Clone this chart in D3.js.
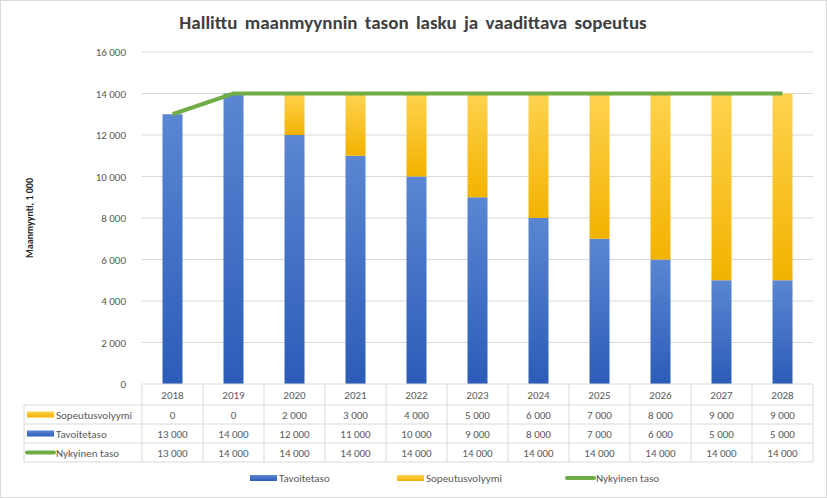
<!DOCTYPE html>
<html><head><meta charset="utf-8">
<script src="https://cdn.jsdelivr.net/npm/d3@7"></script>
<style>body{margin:0;background:#fff;font-family:Calibri,"Liberation Sans",Arial,sans-serif}</style>
</head><body><svg id="c" width="827" height="498"></svg>
<script>
var years = ["2018","2019","2020","2021","2022","2023","2024","2025","2026","2027","2028"];
var sopeutus = [0,0,2000,3000,4000,5000,6000,7000,8000,9000,9000];
var tavoite = [13000,14000,12000,11000,10000,9000,8000,7000,6000,5000,5000];
var nykyinen = [13000,14000,14000,14000,14000,14000,14000,14000,14000,14000,14000];
var yTicks = [0,2000,4000,6000,8000,10000,12000,14000,16000];

var fmt = function(v){ return d3.format(",")(v).replace(/,/g," "); };
var svg = d3.select("#c");
svg.append("rect").attr("x",0.5).attr("y",0.5).attr("width",826).attr("height",497).attr("fill","#fff").attr("stroke","#d9d9d9");

var defs = svg.append("defs");
function grad(id,c1,c2){
  var g = defs.append("linearGradient").attr("id",id).attr("x1",0).attr("x2",0).attr("y1",0).attr("y2",1);
  g.append("stop").attr("offset","0%").attr("stop-color",c1);
  g.append("stop").attr("offset","100%").attr("stop-color",c2);
}
grad("gb","#5a86d2","#2c5cb8");
grad("gy","#ffd34f","#f2b200");

var x = d3.scaleBand().domain(years).range([142,813]);
var y = d3.scaleLinear().domain([0,16000]).range([384,52]);

svg.append("text").attr("x",413).attr("y",29).attr("text-anchor","middle")
  .attr("font-size",19).attr("font-weight","bold").attr("fill","#404040").attr("word-spacing",3)
  .text("Hallittu maanmyynnin tason lasku ja vaadittava sopeutus");

svg.append("g").selectAll("line").data(yTicks.slice(1)).enter().append("line")
  .attr("x1",142).attr("x2",813).attr("y1",function(d){return y(d);}).attr("y2",function(d){return y(d);})
  .attr("stroke","#d9d9d9");
svg.append("g").selectAll("text").data(yTicks).enter().append("text")
  .attr("x",126).attr("y",function(d){return y(d)+4;}).attr("text-anchor","end")
  .attr("font-size",11).attr("fill","#595959").text(fmt);
svg.append("text").attr("transform","translate(33,218) rotate(-90)").attr("text-anchor","middle")
  .attr("font-size",10).attr("font-weight","bold").attr("fill","#262626").text("Maanmyynti, 1 000");

var bw = 20;
svg.append("g").selectAll("rect").data(years).enter().append("rect")
  .attr("x",function(d){return x(d)+x.bandwidth()/2-bw/2;}).attr("width",bw)
  .attr("y",function(d,i){return y(tavoite[i]);})
  .attr("height",function(d,i){return y(0)-y(tavoite[i]);}).attr("fill","url(#gb)");
svg.append("g").selectAll("rect").data(years).enter().append("rect")
  .attr("x",function(d){return x(d)+x.bandwidth()/2-bw/2;}).attr("width",bw)
  .attr("y",function(d,i){return y(tavoite[i]+sopeutus[i]);})
  .attr("height",function(d,i){return y(tavoite[i])-y(tavoite[i]+sopeutus[i]);}).attr("fill","url(#gy)");

var line = d3.line().x(function(d,i){return x(years[i])+x.bandwidth()/2;}).y(function(d){return y(d);});
svg.append("path").attr("d",line(nykyinen)).attr("fill","none").attr("stroke","#70ad47").attr("stroke-width",4);

// data table
var rowY = [384,405,424,443,462];
var tbl = svg.append("g").attr("stroke","#d9d9d9");
tbl.append("line").attr("x1",142).attr("x2",813).attr("y1",384).attr("y2",384);
rowY.slice(1).forEach(function(r){ tbl.append("line").attr("x1",24).attr("x2",813).attr("y1",r).attr("y2",r); });
tbl.append("line").attr("x1",24).attr("x2",24).attr("y1",405).attr("y2",462);
years.forEach(function(d){ tbl.append("line").attr("x1",x(d)).attr("x2",x(d)).attr("y1",384).attr("y2",462); });
tbl.append("line").attr("x1",813).attr("x2",813).attr("y1",384).attr("y2",462);

var rows = [
  {name:"Sopeutusvolyymi", vals:sopeutus, kind:"y"},
  {name:"Tavoitetaso", vals:tavoite, kind:"b"},
  {name:"Nykyinen taso", vals:nykyinen, kind:"g"}
];
svg.append("g").selectAll("text").data(years).enter().append("text")
  .attr("x",function(d){return x(d)+x.bandwidth()/2;}).attr("y",399).attr("text-anchor","middle")
  .attr("font-size",11).attr("fill","#595959").text(function(d){return d;});
function key(g,kx,ky,kind){
  if(kind==="g") g.append("line").attr("x1",kx).attr("x2",kx+27).attr("y1",ky).attr("y2",ky).attr("stroke","#70ad47").attr("stroke-width",4).attr("stroke-linecap","round");
  else g.append("rect").attr("x",kx).attr("y",ky-3).attr("width",27).attr("height",6).attr("fill",kind==="b"?"url(#gb)":"url(#gy)");
}
rows.forEach(function(r,ri){
  var cy = (rowY[ri+1]+rowY[ri+2])/2;
  var g = svg.append("g");
  key(g,27,cy,r.kind);
  g.append("text").attr("x",56).attr("y",cy+4).attr("font-size",11).attr("fill","#595959").text(r.name);
  g.selectAll("text.v").data(r.vals).enter().append("text").attr("class","v")
    .attr("x",function(d,i){return x(years[i])+x.bandwidth()/2;}).attr("y",cy+4).attr("text-anchor","middle")
    .attr("font-size",11).attr("fill","#595959").text(fmt);
});

// legend
var leg = [{n:"Tavoitetaso",k:"b",x:250},{n:"Sopeutusvolyymi",k:"y",x:397},{n:"Nykyinen taso",k:"g",x:567}];
leg.forEach(function(l){
  var g = svg.append("g");
  key(g,l.x,478,l.k);
  g.append("text").attr("x",l.x+29).attr("y",482).attr("font-size",11).attr("fill","#595959").text(l.n);
});
</script></body></html>
